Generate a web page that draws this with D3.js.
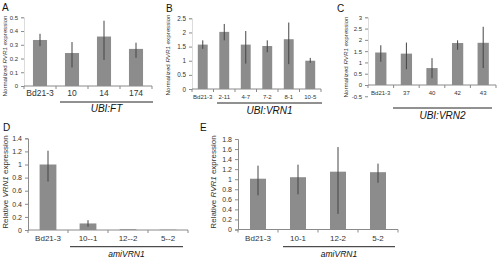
<!DOCTYPE html>
<html><head><meta charset="utf-8">
<script src="https://cdn.jsdelivr.net/npm/d3@7"></script>
<style>body{margin:0;background:#fff}svg{display:block;font-family:"Liberation Sans",Arial,sans-serif}</style>
</head><body><svg id="c" width="500" height="260"></svg>
<script>
// Panel A
const catsA = ["Bd21-3","10","14","174"];
const valsA = [0.335,0.24,0.36,0.27];
const loA = [0.29,0.135,0.19,0.205];
const hiA = [0.38,0.32,0.475,0.315];
const ticksA = [0,0.1,0.2,0.3,0.4,0.5];
// Panel B
const catsB = ["Bd21-3","2-11","4-7","7-2","8-1","10-5"];
const valsB = [1.57,2.02,1.57,1.52,1.76,1.0];
const loB = [1.42,1.72,0.9,1.3,0.88,0.93];
const hiB = [1.72,2.3,2.05,1.72,2.35,1.1];
const ticksB = [0,0.5,1,1.5,2,2.5];
// Panel C
const catsC = ["Bd21-3","37","40","42","43"];
const valsC = [1.44,1.39,0.75,1.86,1.87];
const loC = [1.03,0.7,0.3,1.56,0.75];
const hiC = [1.76,1.88,1.19,1.98,2.58];
const ticksC = [-0.5,0,0.5,1,1.5,2,2.5,3];
// Panel D
const catsD = ["Bd21-3","10--1","12--2","5--2"];
const valsD = [1.0,0.10,0.012,0.005];
const loD = [0.74,0.05,0.012,0.005];
const hiD = [1.21,0.15,0.012,0.005];
const ticksD = [0,0.2,0.4,0.6,0.8,1,1.2,1.4];
// Panel E
const catsE = ["Bd21-3","10-1","12-2","5-2"];
const valsE = [1.01,1.04,1.15,1.14];
const loE = [0.68,0.70,0.31,0.93];
const hiE = [1.27,1.29,1.64,1.31];
const ticksE = [0,0.2,0.4,0.6,0.8,1,1.2,1.4,1.6,1.8];

const svg = d3.select("#c");
const BAR = "#8c8c8c", AX = "#8a8a8a", TXT = "#333";

function panel(o){
  const g = svg.append("g");
  const x = d3.scaleBand().domain(o.cats).range(o.xr).paddingInner(o.pad).paddingOuter(o.pad/2);
  const y = d3.scaleLinear().domain(o.yd).range(o.yr);
  const ya = d3.axisLeft(y).tickValues(o.ticks).tickSize(3).tickPadding(3)
    .tickFormat(d=>String(+d.toFixed(2)));
  const gy = g.append("g").attr("transform",`translate(${o.xr[0]},0)`).call(ya);
  gy.selectAll("path,line").attr("stroke",AX);
  gy.select("path").attr("stroke-opacity",o.yline);
  gy.selectAll("text").attr("font-size",o.tfs).attr("fill",TXT).attr("font-family","Liberation Sans, Arial");
  g.append("line").attr("x1",o.xr[0]).attr("x2",o.xr[1]).attr("y1",y(0)).attr("y2",y(0)).attr("stroke",AX);
  const bounds = o.cats.map(c=>x(c)-x.step()*x.paddingInner()/2).concat([o.xr[1]]);
  bounds.forEach(b=>g.append("line").attr("x1",b).attr("x2",b).attr("y1",y(0)).attr("y2",y(0)+3).attr("stroke",AX));
  g.selectAll("rect.b").data(o.cats).join("rect")
    .attr("x",c=>x(c)).attr("width",x.bandwidth())
    .attr("y",(c,i)=>Math.min(y(o.vals[i]),y(0))).attr("height",(c,i)=>Math.abs(y(0)-y(o.vals[i])))
    .attr("fill",BAR);
  g.selectAll("line.e").data(o.cats).join("line")
    .attr("x1",c=>x(c)+x.bandwidth()/2).attr("x2",c=>x(c)+x.bandwidth()/2)
    .attr("y1",(c,i)=>y(o.lo[i])).attr("y2",(c,i)=>y(o.hi[i]))
    .attr("stroke","#444").attr("stroke-width",1);
  g.selectAll("text.cl").data(o.cats).join("text")
    .attr("x",c=>x(c)+x.bandwidth()/2).attr("y",o.cly)
    .attr("text-anchor","middle").attr("font-size",o.cfs).attr("fill",TXT).text(c=>c);
  g.append("line").attr("x1",o.ul[0]).attr("x2",o.ul[1]).attr("y1",o.ul[2]).attr("y2",o.ul[2]).attr("stroke","#222");
  g.append("text").attr("x",(o.ul[0]+o.ul[1])/2).attr("y",o.gly).attr("text-anchor","middle")
    .attr("font-size",o.gfs).attr("font-style","italic").attr("fill","#111").text(o.group);
  const t = g.append("text").attr("transform",`translate(${o.yt[0]},${o.yt[1]}) rotate(-90)`)
    .attr("text-anchor","middle").attr("font-size",o.yfs).attr("fill",TXT).attr("dominant-baseline","middle");
  t.append("tspan").text(o.ytitle[0]);
  t.append("tspan").attr("font-style","italic").text(o.ytitle[1]);
  t.append("tspan").text(o.ytitle[2]);
  g.append("text").attr("x",o.L[0]).attr("y",o.L[1]).attr("font-size",10).attr("fill","#111").text(o.letter);
}

panel({cats:catsA,vals:valsA,lo:loA,hi:hiA,ticks:ticksA,xr:[24,152],pad:0.56,yd:[0,0.5],yr:[86,17.3],
  tfs:6,cfs:8.5,cly:96,ul:[60,153,102],gly:112,gfs:10,group:"UBI:FT",yline:0.3,
  yt:[5,56],yfs:6.2,ytitle:["Normalized ","RVR1"," expression"],L:[2,11],letter:"A"});
panel({cats:catsB,vals:valsB,lo:loB,hi:hiB,ticks:ticksB,xr:[192,321],pad:0.54,yd:[0,2.5],yr:[89,18.3],
  tfs:6.3,cfs:6,cly:99,ul:[217,322,103],gly:114,gfs:10,group:"UBI:VRN1",yline:0.3,
  yt:[168,55],yfs:6.2,ytitle:["Normalized ","RVR1"," expression"],L:[166,12],letter:"B"});
panel({cats:catsC,vals:valsC,lo:loC,hi:hiC,ticks:ticksC,xr:[368,496],pad:0.56,yd:[0,3],yr:[85,17.3],
  tfs:6,cfs:6,cly:95,ul:[393,492,108],gly:119,gfs:10,group:"UBI:VRN2",yline:0.3,
  yt:[346,57],yfs:6.2,ytitle:["Normalized ","RVR1"," expression"],L:[337,12],letter:"C"});
panel({cats:catsD,vals:valsD,lo:loD,hi:hiD,ticks:ticksD,xr:[28,188],pad:0.58,yd:[0,1.4],yr:[230,138.3],
  tfs:7,cfs:8,cly:241,ul:[70,183,246.7],gly:257,gfs:8.5,group:"amiVRN1",yline:1,
  yt:[6,182],yfs:8,ytitle:["Relative ","VRN1"," expression"],L:[3,131],letter:"D"});
panel({cats:catsE,vals:valsE,lo:loE,hi:hiE,ticks:ticksE,xr:[238,398],pad:0.6,yd:[0,1.8],yr:[229.5,139],
  tfs:7,cfs:8,cly:241,ul:[283,395,246.7],gly:257,gfs:8.5,group:"amiVRN1",yline:1,
  yt:[214,182],yfs:8,ytitle:["Relative ","RVR1"," expression"],L:[200,131],letter:"E"});
</script></body></html>
